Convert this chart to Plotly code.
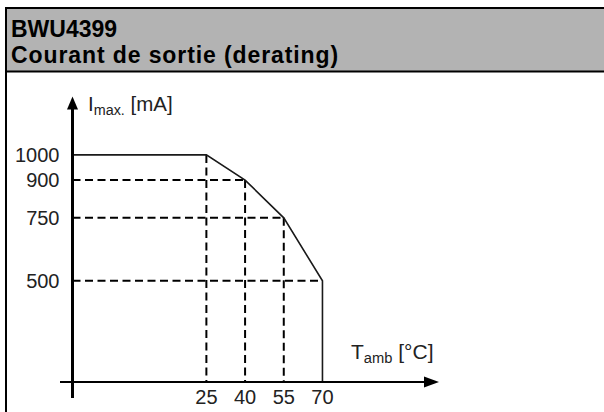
import plotly.graph_objects as go

# ---- data ----
temps = [25, 40, 55, 70]            # T_amb [°C]
currents = [1000, 900, 750, 500]    # I_max [mA]
x_tick_labels = ["25", "40", "55", "70"]
y_tick_vals = [500, 750, 900, 1000]
y_tick_labels = ["500", "750", "900", "1000"]
title_line1 = "BWU4399"
title_line2 = "Courant de sortie (derating)"

# ---- layout constants ----
W, H = 604, 412
X_RANGE = [-26.9, 114.4]
Y_RANGE = [98.1, 1229.9]
AX_LEFT, AX_RIGHT, AX_TOP, AX_BOTTOM = 72.5, 437.0, 97.0, 382.0
FONT = "Arial, Liberation Sans, sans-serif"


def px(x):
    return x / W


def py(y):
    return 1 - y / H


fig = go.Figure()

# dashed guide lines
dx, dy = [], []
for t, i in zip(temps, currents):
    if i != currents[0]:
        dx += [X_RANGE[0], t, None]
        dy += [i, i, None]
    if t != temps[-1]:
        dx += [t, t, None]
        dy += [i, Y_RANGE[0], None]
fig.add_trace(go.Scatter(x=dx, y=dy, mode="lines",
                         line=dict(color="black", width=2, dash="8px,4.5px"),
                         hoverinfo="skip", showlegend=False))

# derating curve
cx = [X_RANGE[0]] + temps + [temps[-1]]
cy = [currents[0]] + currents + [Y_RANGE[0]]
fig.add_trace(go.Scatter(x=cx, y=cy, mode="lines",
                         line=dict(color="#1a1a1a", width=1.6),
                         hoverinfo="skip", showlegend=False))

shapes = []
# header box
shapes.append(dict(type="rect", xref="paper", yref="paper",
                   x0=px(6), x1=px(620), y0=py(71.5), y1=py(8),
                   fillcolor="#b3b3b3", line=dict(color="black", width=2),
                   layer="below"))
# left frame line
shapes.append(dict(type="line", xref="paper", yref="paper",
                   x0=px(6), x1=px(6), y0=py(71.5), y1=py(420),
                   line=dict(color="black", width=2)))
# y axis with arrow
shapes.append(dict(type="line", xref="paper", yref="paper",
                   x0=px(AX_LEFT), x1=px(AX_LEFT), y0=py(398), y1=py(106),
                   line=dict(color="black", width=3)))
shapes.append(dict(type="path", xref="paper", yref="paper",
                   path=f"M {px(AX_LEFT)} {py(96.5)} L {px(AX_LEFT-5.5)} {py(109.5)} "
                        f"L {px(AX_LEFT+5.5)} {py(109.5)} Z",
                   fillcolor="black", line=dict(width=0)))
# x axis with arrow
shapes.append(dict(type="line", xref="paper", yref="paper",
                   x0=px(60), x1=px(426), y0=py(AX_BOTTOM), y1=py(AX_BOTTOM),
                   line=dict(color="black", width=2.2)))
shapes.append(dict(type="path", xref="paper", yref="paper",
                   path=f"M {px(439)} {py(AX_BOTTOM)} L {px(424)} {py(AX_BOTTOM-5.5)} "
                        f"L {px(424)} {py(AX_BOTTOM+5.5)} Z",
                   fillcolor="black", line=dict(width=0)))

annotations = [
    dict(xref="paper", yref="paper", x=px(9), y=py(14), xanchor="left", yanchor="top",
         text=f"<b>{title_line1}</b>",
         align="left", showarrow=False,
         font=dict(family=FONT, size=23, color="black")),
    dict(xref="paper", yref="paper", x=px(9), y=py(40), xanchor="left", yanchor="top",
         text=f"<b><span style='letter-spacing:0.9px'>{title_line2}</span></b>",
         align="left", showarrow=False,
         font=dict(family=FONT, size=23, color="black")),
    dict(xref="paper", yref="paper", x=px(86), y=py(90), xanchor="left", yanchor="top",
         text="I<sub>max.</sub> [mA]", showarrow=False,
         font=dict(family=FONT, size=20.5, color="#222")),
    dict(xref="paper", yref="paper", x=px(349), y=py(338), xanchor="left", yanchor="top",
         text="T<sub>amb</sub> [°C]", showarrow=False,
         font=dict(family=FONT, size=21, color="#222")),
]

fig.update_layout(
    width=W, height=H,
    margin=dict(l=0, r=0, t=0, b=0),
    paper_bgcolor="white", plot_bgcolor="rgba(0,0,0,0)",
    shapes=shapes, annotations=annotations,
    xaxis=dict(domain=[px(AX_LEFT), px(AX_RIGHT)], range=X_RANGE,
               tickvals=temps, ticktext=x_tick_labels, ticks="",
               showgrid=False, zeroline=False, showline=False,
               tickfont=dict(family=FONT, size=20, color="#222"),
               ticklabelstandoff=1, automargin=False, fixedrange=True),
    yaxis=dict(domain=[py(AX_BOTTOM), py(AX_TOP)], range=Y_RANGE,
               tickvals=y_tick_vals, ticktext=y_tick_labels, ticks="",
               showgrid=False, zeroline=False, showline=False,
               tickfont=dict(family=FONT, size=20, color="#222"),
               ticklabelstandoff=12, automargin=False, fixedrange=True),
    showlegend=False,
)

fig.write_html("out.html", config={"displayModeBar": False},
               post_script="document.body.style.margin='0';document.body.style.overflow='hidden';")
